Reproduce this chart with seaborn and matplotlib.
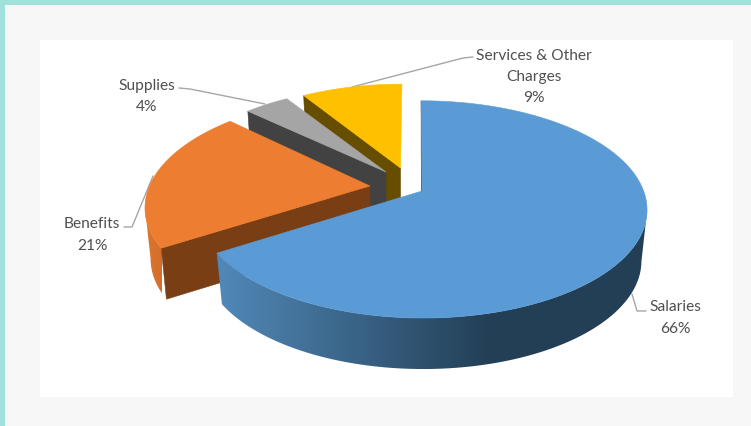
import numpy as np
import pandas as pd
import matplotlib
matplotlib.use('Agg')
import matplotlib.pyplot as plt
from matplotlib.patches import Polygon, Rectangle
import seaborn as sns

# Chart data
categories = ['Salaries', 'Benefits', 'Supplies', 'Services & Other\nCharges']
shares = [66, 21, 4, 9]

# Look of each slice, same order as categories
top_colors = ['#5B9BD5', '#ED7D31', '#A5A5A5', '#FFC000']
face_colors = ['#2F5574', '#7A3E15', '#424242', '#664D00']
wall_colors = [['#5087B6', '#233F56'], ['#DC752E', '#C96A28'], ['#636363', '#636363'], ['#997300', '#997300']]
shade_from = [223, 146, 0, 0]
shade_to = [490, 176, 751, 751]
apex_x = [422, 370, 386, 400.5]
apex_y = [192, 187, 173, 169]
scale_x = [0.985, 0.98, 0.94, 0.93]
scale_y = [1.0, 1.0, 0.94, 0.93]
slice_skew = [6, -40, 0, -10]

# Label positions and leader lines (pixels)
label_x = [675, 92, 147, 534]
label_y = [318, 235, 96.5, 77]
leader_x = [[632, 637, 646], [124, 132, 153], [179, 190, 265], [352, 463, 473]]
leader_y = [[295, 312, 312], [228, 228, 177], [89, 90, 105], [88, 59, 58]]

# Pie shape (pixels)
RX, RY, DIST = 225, 105.5, 5.9
DEPTH = 51
SHRINK = 0.975

df = pd.DataFrame({'category': categories, 'share': shares})
df['end'] = df['share'].cumsum() / df['share'].sum() * 360
df['start'] = df['end'] - df['share'] / df['share'].sum() * 360

sns.set_theme(style='white')
plt.rcParams['font.family'] = ['Lato', 'DejaVu Sans']

fig = plt.figure(figsize=(7.51, 4.27), dpi=100, facecolor='#A0E1DC')
ax = fig.add_axes([0, 0, 1, 1])

# Background panels
ax.add_patch(Rectangle((5, 6), 746, 421, color='#F7F7F7', lw=0, zorder=0))
ax.add_patch(Rectangle((40, 41), 693, 357, color='white', lw=0, zorder=0))


def rim(angles, i):
    # top rim of a slice, seen with some perspective
    a = np.radians(angles)
    side, back = np.sin(a), np.cos(a)
    p = DIST / (DIST + back)
    x = apex_x[i] + side * RX * p * scale_x[i] + slice_skew[i] * (p - 1)
    return x, apex_y[i] - back * RY * p * scale_y[i]


def lower(x, y, i):
    # same points on the bottom of the slice
    return apex_x[i] + (x - apex_x[i]) * SHRINK, y + DEPTH


def draw_slice(i, z):
    angles = np.linspace(df['start'][i], df['end'][i], 240)
    x, y = rim(angles, i)
    xb, yb = lower(x, y, i)

    # outer wall, from the silhouette point to the front edge, shaded across x
    if i < 2:
        front = slice(int(np.argmax(x)), None) if i == 0 else slice(0, int(np.argmin(x)) + 1)
        outline = list(zip(x[front], y[front])) + list(zip(xb[front][::-1], yb[front][::-1]))
        wall = Polygon(outline, fc='none', ec='none')
        ax.add_patch(wall)
        xs = np.linspace(x[front].min(), x[front].max(), 400)
        t = np.clip((xs - shade_from[i]) / (shade_to[i] - shade_from[i]), 0, 1)
        cmap = sns.blend_palette(wall_colors[i], as_cmap=True)
        im = ax.imshow(t.reshape(1, -1), extent=(xs[0], xs[-1], yb[front].max(), y[front].min()),
                       cmap=cmap, vmin=0, vmax=1, aspect='auto', zorder=z, interpolation='bilinear')
        im.set_clip_path(wall)

    # cut face at the start of the slice
    bx, by = lower(x[0], y[0], i)
    face = [(apex_x[i], apex_y[i]), (x[0], y[0]), (bx, by), (apex_x[i], apex_y[i] + DEPTH)]
    ax.add_patch(Polygon(face, fc=face_colors[i], ec=face_colors[i], lw=0.4, zorder=z + 0.1))

    # top of the slice
    top = list(zip(x, y)) + [(apex_x[i], apex_y[i])]
    ax.add_patch(Polygon(top, fc=top_colors[i], ec=top_colors[i], lw=0.4, zorder=z + 0.2))


# Leader lines go under the pie
for lx, ly in zip(leader_x, leader_y):
    ax.plot(lx, ly, color='#A6A6A6', lw=1, zorder=1)

# Back slices first, front slices cover them
for z, i in enumerate([3, 2, 1, 0]):
    draw_slice(i, 2 + z)

# Data labels
for i in range(len(categories)):
    ax.text(label_x[i], label_y[i], f"{df['category'][i]}\n{df['share'][i]}%", ha='center', va='center',
            fontsize=11.2, color='#505050', linespacing=1.68, zorder=10)

ax.set_xlim(0, 751)
ax.set_ylim(427, 0)
ax.axis('off')

fig.savefig('out.png', dpi=100, facecolor=fig.get_facecolor())
